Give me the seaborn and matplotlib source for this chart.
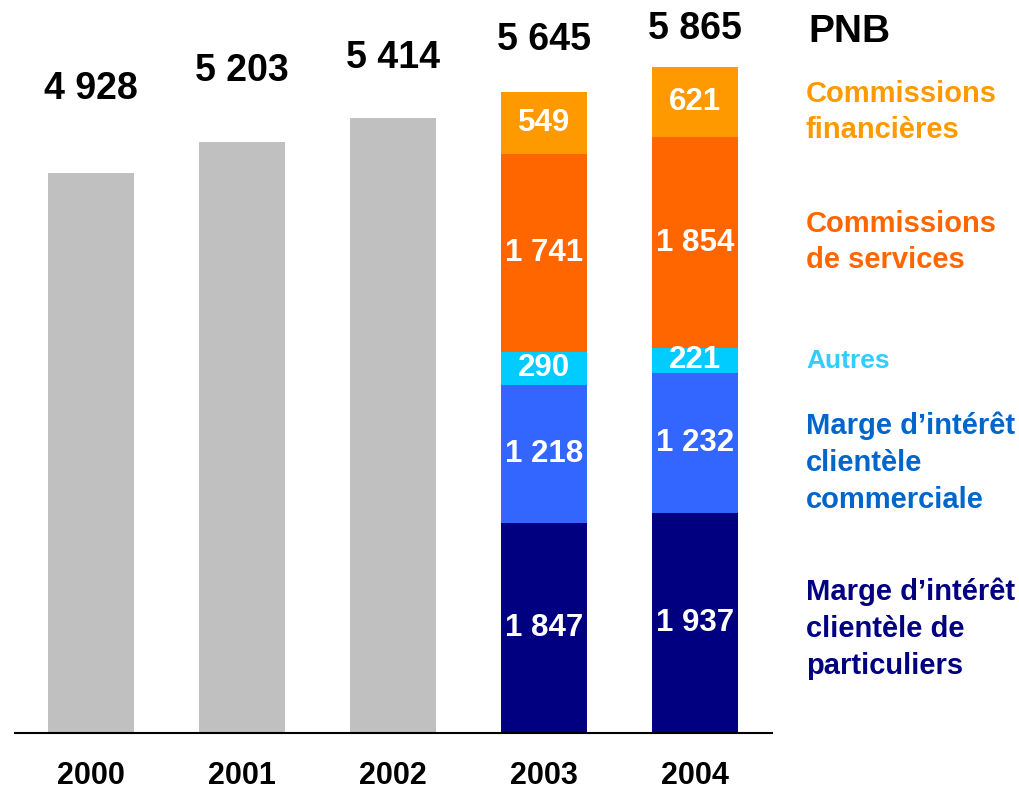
import matplotlib
matplotlib.use("Agg")
import matplotlib.pyplot as plt
import pandas as pd
import seaborn as sns

years = ["2000", "2001", "2002", "2003", "2004"]
totals = [4928, 5203, 5414, 5645, 5865]

split_years = ["2003", "2004"]
segment_names = [
    "Marge d\u2019int\u00e9r\u00eat\nclient\u00e8le de\nparticuliers",
    "Marge d\u2019int\u00e9r\u00eat\nclient\u00e8le\ncommerciale",
    "Autres",
    "Commissions\nde services",
    "Commissions\nfinanci\u00e8res",
]
particuliers = [1847, 1937]
commerciale = [1218, 1232]
autres = [290, 221]
services = [1741, 1854]
financieres = [549, 621]

segment_colors = ["#000080", "#3366FF", "#00CCFF", "#FF6600", "#FF9900"]
legend_colors = ["#000080", "#0066CC", "#33CCFF", "#FF6600", "#FF9900"]


def fmt(v):
    return f"{v:,}".replace(",", " ")


sns.set_style("white")
plt.rcParams["font.family"] = ["Liberation Sans", "DejaVu Sans"]
plt.rcParams["font.weight"] = "bold"

fig = plt.figure(figsize=(10.19, 7.94), dpi=100)
ax = fig.add_axes([15 / 1019, 61 / 794, 757 / 1019, 733 / 794])

# grey bars for the years without a breakdown
grey = pd.DataFrame({"year": years[:3], "value": totals[:3]})
sns.barplot(data=grey, x="year", y="value", order=years, color="#C0C0C0",
            width=0.57, saturation=1, linewidth=0, ax=ax)

# stacked bars drawn as overlapping cumulative heights, tallest first
layers = [particuliers, commerciale, autres, services, financieres]
cum = []
run = [0] * len(split_years)
for layer in layers:
    run = [a + b for a, b in zip(run, layer)]
    cum.append(run)
for i in range(len(layers) - 1, -1, -1):
    df = pd.DataFrame({"year": split_years, "value": cum[i]})
    sns.barplot(data=df, x="year", y="value", order=years,
                color=segment_colors[i], width=0.57, saturation=1,
                linewidth=0, ax=ax)

# values inside the segments
for j, yr in enumerate(split_years):
    xpos = years.index(yr)
    base = 0
    for layer in layers:
        v = layer[j]
        ax.text(xpos, base + v / 2, fmt(v), ha="center", va="center",
                color="white", fontsize=22.5, fontweight="bold")
        base += v

# totals above the bars
label_y = [5665, 5830, 5945, 6100, 6200]
for i, t in enumerate(totals):
    ax.text(i, label_y[i], fmt(t), ha="center", va="center",
            color="black", fontsize=27, fontweight="bold")

ax.set_xlim(-0.503, 4.51)
ax.set_ylim(0, 6452)
ax.set_xlabel("")
ax.set_ylabel("")
ax.set_yticks([])
for s in ["left", "right", "top"]:
    ax.spines[s].set_visible(False)
ax.spines["bottom"].set_color("black")
ax.spines["bottom"].set_linewidth(1.5)
ax.tick_params(axis="x", length=0, pad=20, colors="black")
for lab in ax.get_xticklabels():
    lab.set_fontsize(22)
    lab.set_fontweight("bold")
    lab.set_color("black")

# series names on the right
fig.text(808 / 1019, 1 - 32 / 794, "PNB", ha="left", va="center",
         fontsize=28, fontweight="bold", color="black")
legend_y = [629, 463, 361, 242, 112]
legend_size = [21, 21, 19, 21, 21]
for i, name in enumerate(segment_names):
    fig.text(806 / 1019, 1 - legend_y[i] / 794, name, ha="left", va="center",
             fontsize=legend_size[i], fontweight="bold",
             color=legend_colors[i], linespacing=1.4)

fig.savefig("out.png", dpi=100)
